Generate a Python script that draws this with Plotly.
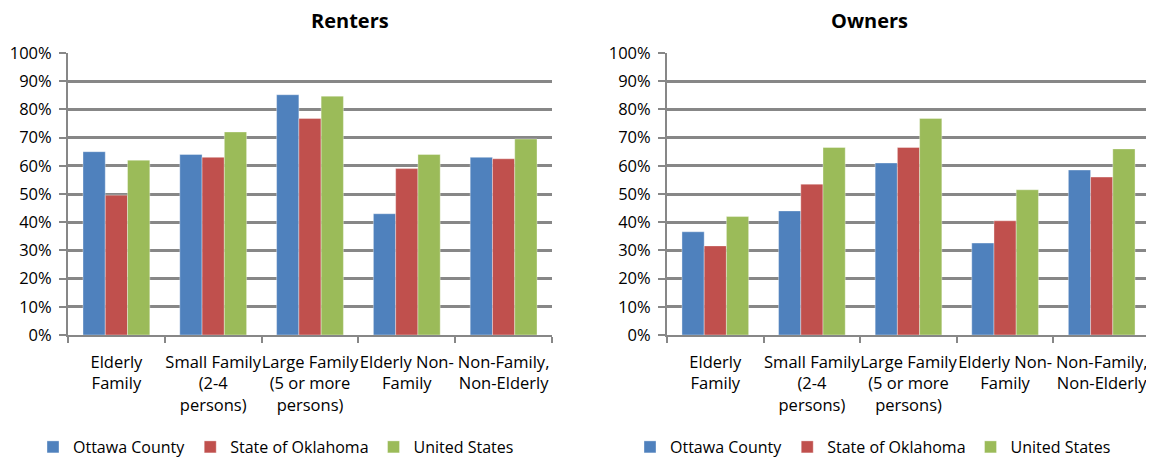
import plotly.graph_objects as go

categories = ["Elderly<br>Family", "Small Family<br>(2-4<br>persons)", "Large Family<br>(5 or more<br>persons)",
              "Elderly Non-<br>Family", "Non-Family,<br>Non-Elderly"]
series = ["Ottawa County", "State of Oklahoma", "United States"]
colors = ["#4F81BD", "#C0504D", "#9BBB59"]

renters_ottawa = [65, 64, 85.2, 43, 63]
renters_oklahoma = [49.6, 63, 76.8, 59, 62.5]
renters_us = [62, 72, 84.7, 64, 69.5]

owners_ottawa = [36.6, 44, 61, 32.6, 58.5]
owners_oklahoma = [31.6, 53.5, 66.5, 40.5, 56]
owners_us = [42, 66.5, 76.8, 51.5, 66]

y_ticks = list(range(0, 101, 10))
y_tick_labels = [f"{v}%" for v in y_ticks]

renters = [renters_ottawa, renters_oklahoma, renters_us]
owners = [owners_ottawa, owners_oklahoma, owners_us]

FONT = "Open Sans"
FS = 16.5
GRID = "#878787"

fig = go.Figure()
for name, col, rv, ov in zip(series, colors, renters, owners):
    fig.add_trace(go.Bar(x=categories, y=rv, name=name, marker_color=col,
                         marker_line_color="rgba(255,255,255,0.6)", marker_line_width=0.6,
                         xaxis="x", yaxis="y", legend="legend"))
    fig.add_trace(go.Bar(x=categories, y=ov, name=name, marker_color=col,
                         marker_line_color="rgba(255,255,255,0.6)", marker_line_width=0.6,
                         xaxis="x2", yaxis="y2", legend="legend2"))

# page body has an 8px margin; lay out in figure pixels accordingly
W, H = 1146, 451
top, bottom = 45, 327
L1, R1 = 60, 544
L2, R2 = 659, 1142

def xax(dom):
    return dict(domain=dom, type="category", showgrid=False, showline=True, linecolor=GRID,
                linewidth=2, ticks="outside", tickson="boundaries", ticklen=6, tickcolor=GRID,
                tickwidth=2, tickfont=dict(family=FONT, size=FS, color="#000"), tickangle=0,
                ticklabelstandoff=11, fixedrange=True)

def yax(anchor):
    return dict(anchor=anchor, range=[0, 100], tickvals=y_ticks, ticktext=y_tick_labels,
                showgrid=True, gridcolor=GRID, gridwidth=2.5, showline=True, linecolor=GRID,
                linewidth=2, ticks="outside", ticklen=7, tickcolor=GRID, tickwidth=2,
                zeroline=False, tickfont=dict(family=FONT, size=FS, color="#000"),
                ticklabelstandoff=4, fixedrange=True)

legend_y = (bottom - 439) / (bottom - top)

fig.update_layout(
    width=W, height=H,
    margin=dict(l=0, r=0, t=top, b=H - bottom, autoexpand=False),
    plot_bgcolor="white", paper_bgcolor="white",
    barmode="group", bargap=0.31, bargroupgap=0,
    font=dict(family=FONT, size=FS, color="#000"),
    xaxis=xax([L1 / W, R1 / W]),
    yaxis=yax("x"),
    xaxis2=xax([L2 / W, R2 / W]),
    yaxis2=yax("x2"),
    legend=dict(orientation="h", x=25 / W, xanchor="left", y=legend_y,
                yanchor="middle", font=dict(family=FONT, size=16), itemwidth=30,
                traceorder="normal"),
    legend2=dict(orientation="h", x=622 / W, xanchor="left", y=legend_y,
                 yanchor="middle", font=dict(family=FONT, size=16), itemwidth=30,
                 traceorder="normal"),
    annotations=[
        dict(text="<b>Renters</b>", x=(L1 + R1) / 2 / W, xref="paper", y=(bottom - 12) / (bottom - top),
             yref="paper", showarrow=False, yanchor="middle", borderpad=0,
             font=dict(family=FONT, size=20)),
        dict(text="<b>Owners</b>", x=(L2 + R2) / 2 / W, xref="paper", y=(bottom - 12) / (bottom - top),
             yref="paper", showarrow=False, yanchor="middle", borderpad=0,
             font=dict(family=FONT, size=20)),
    ],
)

fig.write_html("out.html")
